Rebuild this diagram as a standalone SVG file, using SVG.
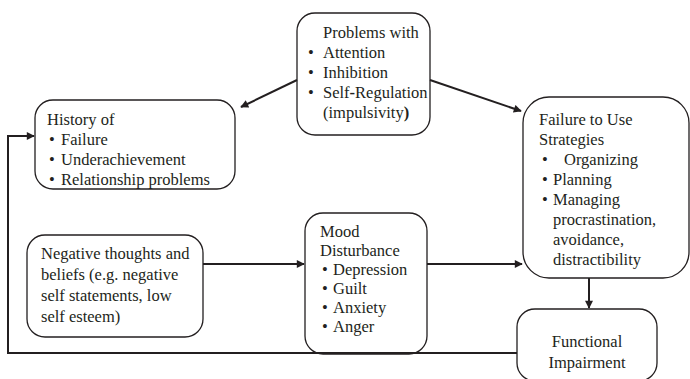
<svg xmlns="http://www.w3.org/2000/svg" width="690" height="379" viewBox="0 0 690 379">
  <defs>
    <marker id="arrow" viewBox="0 0 10 10" refX="9" refY="5" markerWidth="9" markerHeight="8" markerUnits="userSpaceOnUse" orient="auto">
      <path d="M0,0 L10,5 L0,10 z" fill="#231f20"/>
    </marker>
    <style>
      .box { fill: #ffffff; stroke: #231f20; stroke-width: 1.3; }
      .t { font-family: "Liberation Serif", "Times New Roman", serif; font-size: 16.5px; fill: #231f20; }
      .link { fill: none; stroke: #231f20; stroke-width: 2; }
    </style>
  </defs>
  <rect width="690" height="379" fill="#ffffff"/>

  <!-- Problems with -->
  <g id="problems">
    <rect class="box" x="297" y="13" width="133" height="122" rx="18"/>
    <text class="t" x="323" y="38">Problems with</text>
    <text class="t" x="308" y="58">•</text><text class="t" x="323" y="58">Attention</text>
    <text class="t" x="308" y="78">•</text><text class="t" x="323" y="78">Inhibition</text>
    <text class="t" x="308" y="98">•</text><text class="t" x="323" y="98">Self<tspan font-weight="bold">-</tspan>Regulation</text>
    <text class="t" x="323" y="118">(impulsivity<tspan font-weight="bold">)</tspan></text>
  </g>

  <!-- History of -->
  <g id="history">
    <rect class="box" x="35" y="100" width="200" height="89" rx="18"/>
    <text class="t" x="47" y="125">History of</text>
    <text class="t" x="49" y="145">•</text><text class="t" x="61" y="145">Failure</text>
    <text class="t" x="49" y="165">•</text><text class="t" x="61" y="165">Underachievement</text>
    <text class="t" x="49" y="185">•</text><text class="t" x="61" y="185">Relationship problems</text>
  </g>

  <!-- Failure to Use Strategies -->
  <g id="strategies">
    <rect class="box" x="523" y="97" width="166" height="181" rx="26"/>
    <text class="t" x="539" y="125">Failure to Use</text>
    <text class="t" x="539" y="145">Strategies</text>
    <text class="t" x="542" y="165">•</text><text class="t" x="564" y="165">Organizing</text>
    <text class="t" x="542" y="185">•</text><text class="t" x="553" y="185">Planning</text>
    <text class="t" x="542" y="205">•</text><text class="t" x="553" y="205">Managing</text>
    <text class="t" x="553" y="225">procrastination,</text>
    <text class="t" x="553" y="245">avoidance,</text>
    <text class="t" x="553" y="265">distractibility</text>
  </g>

  <!-- Negative thoughts and beliefs -->
  <g id="negative">
    <rect class="box" x="27" y="235" width="176" height="102" rx="18"/>
    <text class="t" x="41" y="259">Negative thoughts and</text>
    <text class="t" x="41" y="280">beliefs (e.g. negative</text>
    <text class="t" x="41" y="301">self statements, low</text>
    <text class="t" x="41" y="322">self esteem)</text>
  </g>

  <!-- Mood Disturbance -->
  <g id="mood">
    <rect class="box" x="305" y="213" width="122" height="141" rx="18"/>
    <text class="t" x="320" y="237">Mood</text>
    <text class="t" x="320" y="256">Disturbance</text>
    <text class="t" x="322" y="275">•</text><text class="t" x="333" y="275">Depression</text>
    <text class="t" x="322" y="294">•</text><text class="t" x="333" y="294">Guilt</text>
    <text class="t" x="322" y="313">•</text><text class="t" x="333" y="313">Anxiety</text>
    <text class="t" x="322" y="332">•</text><text class="t" x="333" y="332">Anger</text>
  </g>

  <!-- Functional Impairment -->
  <g id="impairment">
    <rect class="box" x="517" y="309" width="140" height="72" rx="18"/>
    <text class="t" x="587" y="347" text-anchor="middle">Functional</text>
    <text class="t" x="587" y="368" text-anchor="middle">Impairment</text>
  </g>

  <!-- connectors -->
  <g id="connectors">
    <line class="link" x1="297" y1="80" x2="241" y2="107" marker-end="url(#arrow)"/>
    <line class="link" x1="430" y1="80" x2="521" y2="111" marker-end="url(#arrow)"/>
    <line class="link" x1="203" y1="264" x2="304" y2="264" marker-end="url(#arrow)"/>
    <line class="link" x1="427" y1="264" x2="522" y2="264" marker-end="url(#arrow)"/>
    <line class="link" x1="589" y1="278" x2="589" y2="308" marker-end="url(#arrow)"/>
    <polyline class="link" points="517,353 8,353 8,136 34,136" marker-end="url(#arrow)"/>
  </g>
</svg>
